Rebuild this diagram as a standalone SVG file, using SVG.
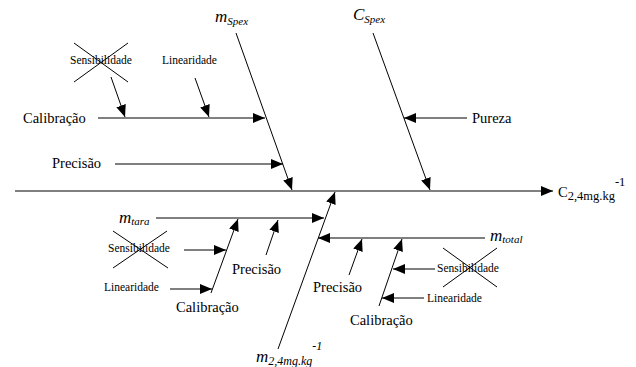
<svg xmlns="http://www.w3.org/2000/svg" width="636" height="367" viewBox="0 0 636 367">
<style>
  .ln { stroke:#000; stroke-width:1; fill:none; }
  .arr { stroke:#000; stroke-width:1; fill:none; marker-end:url(#ah); }
  .big { font-family:"Liberation Serif","Times New Roman",serif; font-size:14.5px; fill:#000; }
  .sm { font-family:"Liberation Serif","Times New Roman",serif; font-size:11.5px; fill:#000; }
  .var { font-family:"Liberation Serif","Times New Roman",serif; font-style:italic; font-size:17px; fill:#000; }
  .sub { font-size:11px; }
</style>
<defs>
  <marker id="ah" markerUnits="userSpaceOnUse" markerWidth="13" markerHeight="11" refX="12" refY="5" orient="auto">
    <path d="M0,0 L12,5 L0,10 z" fill="#000"/>
  </marker>
</defs>
<rect width="636" height="367" fill="#fff"/>

<g id="connectors">
  <line class="arr" x1="15" y1="191" x2="553" y2="191"/>
  <line class="arr" x1="236" y1="33" x2="292" y2="190"/>
  <line class="arr" x1="373" y1="33" x2="430" y2="190"/>
  <line class="arr" x1="98" y1="118" x2="265" y2="118"/>
  <line class="arr" x1="111" y1="77" x2="125" y2="117"/>
  <line class="arr" x1="195" y1="78" x2="209" y2="117"/>
  <line class="arr" x1="115" y1="164" x2="283" y2="164"/>
  <line class="arr" x1="467" y1="118" x2="404" y2="118"/>
  <line class="arr" x1="278" y1="349" x2="335" y2="192"/>
  <line class="arr" x1="156" y1="218" x2="324" y2="218"/>
  <line class="arr" x1="485" y1="238" x2="318" y2="238"/>
  <line class="arr" x1="211" y1="293" x2="238" y2="219"/>
  <line class="arr" x1="184" y1="250" x2="226" y2="250"/>
  <line class="arr" x1="170" y1="289" x2="212" y2="289"/>
  <line class="arr" x1="266" y1="255" x2="278" y2="220"/>
  <line class="arr" x1="349" y1="275" x2="362" y2="239"/>
  <line class="arr" x1="379" y1="306" x2="402" y2="239"/>
  <line class="arr" x1="435" y1="269" x2="393" y2="269"/>
  <line class="arr" x1="424" y1="298" x2="382" y2="298"/>
</g>

<g id="effect">
  <text class="big" x="558" y="197" font-size="17">C<tspan font-size="12.5" dy="3">2,4mg.kg</tspan><tspan font-size="12.5" dy="-14">-1</tspan></text>
</g>
<g id="m-spex"><text class="var" x="215" y="22">m<tspan class="sub" dy="3">Spex</tspan></text></g>
<g id="c-spex"><text class="var" x="353" y="20">C<tspan class="sub" dy="3">Spex</tspan></text></g>
<g id="sens-top">
  <text class="sm" x="70" y="64">Sensibilidade</text>
  <line class="ln" x1="74" y1="43" x2="128" y2="82"/>
  <line class="ln" x1="128" y1="43" x2="74" y2="82"/>
</g>
<g id="lin-top"><text class="sm" x="162" y="64">Linearidade</text></g>
<g id="calib-top"><text class="big" x="23" y="123">Calibração</text></g>
<g id="prec-top"><text class="big" x="52" y="168">Precisão</text></g>
<g id="pureza"><text class="big" x="472" y="123">Pureza</text></g>

<g id="m-tara"><text class="var" x="119" y="223">m<tspan class="sub" dy="2">tara</tspan></text></g>
<g id="sens-ll">
  <text class="sm" x="108" y="252">Sensibilidade</text>
  <line class="ln" x1="113" y1="231" x2="168" y2="268"/>
  <line class="ln" x1="167" y1="231" x2="113" y2="268"/>
</g>
<g id="lin-ll"><text class="sm" x="104" y="291">Linearidade</text></g>
<g id="prec-ml"><text class="big" x="232" y="274">Precisão</text></g>
<g id="calib-ll"><text class="big" x="176" y="312">Calibração</text></g>

<g id="m-total"><text class="var" x="490" y="241">m<tspan class="sub" dy="2">total</tspan></text></g>
<g id="sens-r">
  <text class="sm" x="437" y="272">Sensibilidade</text>
  <line class="ln" x1="443" y1="248" x2="497" y2="287"/>
  <line class="ln" x1="497" y1="248" x2="443" y2="287"/>
</g>
<g id="lin-r"><text class="sm" x="427" y="302">Linearidade</text></g>
<g id="prec-r"><text class="big" x="313" y="292">Precisão</text></g>
<g id="calib-r"><text class="big" x="350" y="325">Calibração</text></g>

<g id="m-24"><text class="var" x="256" y="362" font-size="18">m<tspan font-size="12" dy="3">2,4mg.kg</tspan><tspan font-size="12" dy="-15">-1</tspan></text></g>
</svg>
